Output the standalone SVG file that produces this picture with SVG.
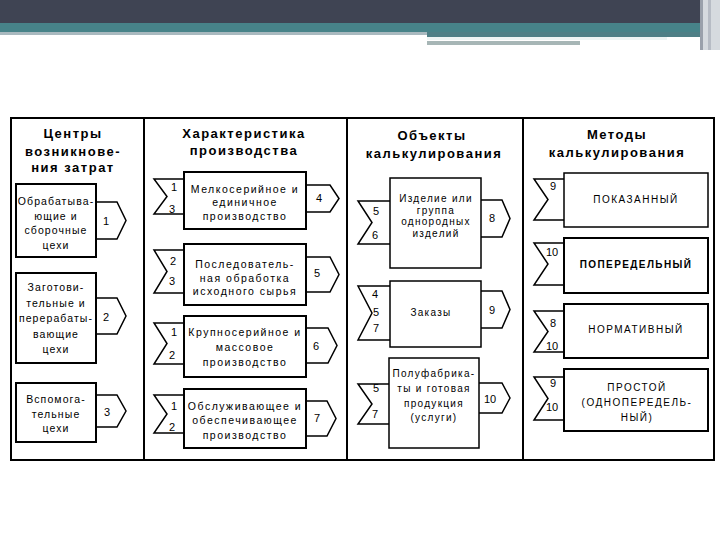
<svg xmlns="http://www.w3.org/2000/svg" width="720" height="540" viewBox="0 0 720 540">
<style>
.box{fill:#fff;stroke:#000;stroke-width:2}
.thin{stroke-width:1.5}
.tab{fill:#fff;stroke:#000;stroke-width:1.5;stroke-linejoin:miter}
.frame{fill:none;stroke:#000;stroke-width:2}
text{font-family:"Liberation Sans",Arial,sans-serif;fill:#000}
.h{font-size:13px;font-weight:bold;letter-spacing:1.5px;text-anchor:middle}
.t{font-size:10.5px;letter-spacing:1.5px;text-anchor:middle}
.t1{font-size:10.5px;letter-spacing:1.1px;text-anchor:middle}
.s{font-size:10px;letter-spacing:1.3px;text-anchor:middle}
.c{font-size:10px;letter-spacing:1.5px;text-anchor:middle}
.cb{font-size:10px;font-weight:bold;letter-spacing:1.4px;text-anchor:middle}
.n{font-size:11px;text-anchor:middle}
</style>
<g id="banner">
<rect x="0" y="0" width="720" height="23" fill="#3f4453"/>
<rect x="0" y="23" width="720" height="10" fill="#478389"/>
<rect x="0" y="32" width="427" height="3" fill="#a9b9bf"/>
<rect x="427" y="32" width="275" height="5" fill="#4f7f86"/>
<rect x="427" y="37" width="240" height="3" fill="#eef4f4"/>
<rect x="427" y="41" width="153" height="4" fill="#a7b6b6"/>
<rect x="700" y="0" width="20" height="50" fill="#d6dadf"/>
<rect x="700" y="0" width="3" height="50" fill="#9aa0ab"/>
<rect x="708" y="0" width="3" height="50" fill="#b7bcc5"/>
</g>
<g id="frame">
<rect class="frame" x="11" y="118" width="703" height="342"/>
<line class="frame" x1="144" y1="118" x2="144" y2="460"/>
<line class="frame" x1="347" y1="118" x2="347" y2="460"/>
<line class="frame" x1="523" y1="118" x2="523" y2="460"/>
</g>
<g id="headers">
<text class="h" x="73" y="138">Центры</text>
<text class="h" x="73" y="156">возникнове-</text>
<text class="h" x="73" y="172">ния затрат</text>
<text class="h" x="244" y="138">Характеристика</text>
<text class="h" x="244" y="155">производства</text>
<text class="h" x="432" y="140">Объекты</text>
<text class="h" x="434" y="158">калькулирования</text>
<text class="h" x="617" y="139">Методы</text>
<text class="h" x="617" y="157">калькулирования</text>
</g>
<g id="connectors">
<path class="tab" d="M96,202 L117,202 L126,220.5 L117,239 L96,239"/>
<path class="tab" d="M96,298 L117,298 L126,316 L117,334 L96,334"/>
<path class="tab" d="M96,395 L117,395 L126,411 L117,427 L96,427"/>
<path class="tab" d="M184,179 L154,179 L167,196.5 L154,214 L184,214"/>
<path class="tab" d="M184,250 L154,250 L167,271.5 L154,293 L184,293"/>
<path class="tab" d="M184,323 L154,323 L167,343.5 L154,364 L184,364"/>
<path class="tab" d="M184,395 L154,395 L167,414 L154,433 L184,433"/>
<path class="tab" d="M306,185 L330,185 L339,198.5 L330,212 L306,212"/>
<path class="tab" d="M306,257 L330,257 L339,274.5 L330,292 L306,292"/>
<path class="tab" d="M306,328 L328,328 L337,345.5 L328,363 L306,363"/>
<path class="tab" d="M306,401 L327,401 L336,418.5 L327,436 L306,436"/>
<path class="tab" d="M390,201 L358,201 L372,222.5 L358,244 L390,244"/>
<path class="tab" d="M390,286 L358,286 L372,313 L358,340 L390,340"/>
<path class="tab" d="M390,384 L358,384 L372,404 L358,424 L390,424"/>
<path class="tab" d="M481,200 L502,200 L510,218.5 L502,237 L481,237"/>
<path class="tab" d="M481,291 L502,291 L510,309.5 L502,328 L481,328"/>
<path class="tab" d="M479,383 L502,383 L510,398 L502,413 L479,413"/>
<path class="tab" d="M564,179 L534,179 L548,199.5 L534,220 L564,220"/>
<path class="tab" d="M564,243 L534,243 L548,264 L534,285 L564,285"/>
<path class="tab" d="M564,311 L534,311 L548,331.5 L534,352 L564,352"/>
<path class="tab" d="M564,377 L534,377 L548,398.5 L534,420 L564,420"/>
<text class="n" x="106" y="225">1</text>
<text class="n" x="106" y="321">2</text>
<text class="n" x="107" y="416">3</text>
<text class="n" x="174" y="191">1</text>
<text class="n" x="172" y="213">3</text>
<text class="n" x="173" y="265">2</text>
<text class="n" x="172" y="285">3</text>
<text class="n" x="174" y="336">1</text>
<text class="n" x="172" y="359">2</text>
<text class="n" x="174" y="410">1</text>
<text class="n" x="172" y="431">2</text>
<text class="n" x="319" y="202">4</text>
<text class="n" x="317" y="277">5</text>
<text class="n" x="316" y="350">6</text>
<text class="n" x="317" y="422">7</text>
<text class="n" x="376" y="215">5</text>
<text class="n" x="375" y="239">6</text>
<text class="n" x="375" y="298">4</text>
<text class="n" x="376" y="316">5</text>
<text class="n" x="376" y="332">7</text>
<text class="n" x="376" y="392">5</text>
<text class="n" x="375" y="418">7</text>
<text class="n" x="492" y="222">8</text>
<text class="n" x="492" y="314">9</text>
<text class="n" x="490" y="403">10</text>
<text class="n" x="553" y="190">9</text>
<text class="n" x="552" y="256">10</text>
<text class="n" x="553" y="327">8</text>
<text class="n" x="552" y="350">10</text>
<text class="n" x="553" y="387">9</text>
<text class="n" x="552" y="411">10</text>
</g>
<g id="n1">
<rect class="box" x="16" y="184" width="80" height="73"/>
<text class="t1" x="56" y="205">Обрабатыва-</text>
<text class="t1" x="56" y="220">ющие и</text>
<text class="t1" x="56" y="234">сборочные</text>
<text class="t1" x="56" y="249">цехи</text>
</g>
<g id="n2">
<rect class="box" x="16" y="273" width="80" height="90"/>
<text class="t1" x="56" y="291">Заготови-</text>
<text class="t1" x="56" y="307">тельные и</text>
<text class="t1" x="56" y="322">перерабаты-</text>
<text class="t1" x="56" y="338">вающие</text>
<text class="t1" x="56" y="353">цехи</text>
</g>
<g id="n3">
<rect class="box" x="16" y="383" width="80" height="59"/>
<text class="t1" x="56" y="403">Вспомога-</text>
<text class="t1" x="56" y="418">тельные</text>
<text class="t1" x="56" y="432">цехи</text>
</g>
<g id="n4">
<rect class="box" x="184" y="172" width="122" height="57"/>
<text class="t" x="245" y="193">Мелкосерийное и</text>
<text class="t" x="245" y="206">единичное</text>
<text class="t" x="245" y="220">производство</text>
</g>
<g id="n5">
<rect class="box" x="184" y="244" width="122" height="61"/>
<text class="t" x="245" y="268">Последователь-</text>
<text class="t" x="245" y="282">ная обработка</text>
<text class="t" x="245" y="295">исходного сырья</text>
</g>
<g id="n6">
<rect class="box" x="184" y="316" width="122" height="61"/>
<text class="t" x="245" y="336">Крупносерийное и</text>
<text class="t" x="245" y="351">массовое</text>
<text class="t" x="245" y="366">производство</text>
</g>
<g id="n7">
<rect class="box" x="184" y="389" width="122" height="59"/>
<text class="t" x="245" y="410">Обслуживающее и</text>
<text class="t" x="245" y="424">обеспечивающее</text>
<text class="t" x="245" y="439">производство</text>
</g>
<g id="n8">
<rect class="box thin" x="390" y="178" width="91" height="90"/>
<text class="s" x="436" y="202">Изделие или</text>
<text class="s" x="436" y="214">группа</text>
<text class="s" x="436" y="225">однородных</text>
<text class="s" x="436" y="237">изделий</text>
</g>
<g id="n9">
<rect class="box thin" x="390" y="281" width="91" height="66"/>
<text class="s" x="431" y="316">Заказы</text>
</g>
<g id="n10">
<rect class="box thin" x="389" y="358" width="90" height="90"/>
<text class="s" x="434" y="377">Полуфабрика-</text>
<text class="s" x="434" y="392">ты и готовая</text>
<text class="s" x="434" y="407">продукция</text>
<text class="s" x="434" y="421">(услуги)</text>
</g>
<g id="m1">
<rect class="box thin" x="564" y="173" width="144" height="54"/>
<text class="c" x="636" y="203">ПОКАЗАННЫЙ</text>
</g>
<g id="m2">
<rect class="box" x="564" y="238" width="144" height="55"/>
<text class="cb" x="636" y="268">ПОПЕРЕДЕЛЬНЫЙ</text>
</g>
<g id="m3">
<rect class="box" x="564" y="304" width="144" height="54"/>
<text class="c" x="636" y="333">НОРМАТИВНЫЙ</text>
</g>
<g id="m4">
<rect class="box" x="564" y="369" width="144" height="62"/>
<text class="c" x="637" y="391">ПРОСТОЙ</text>
<text class="c" x="637" y="406">(ОДНОПЕРЕДЕЛЬ-</text>
<text class="c" x="637" y="421">НЫЙ)</text>
</g>
</svg>
